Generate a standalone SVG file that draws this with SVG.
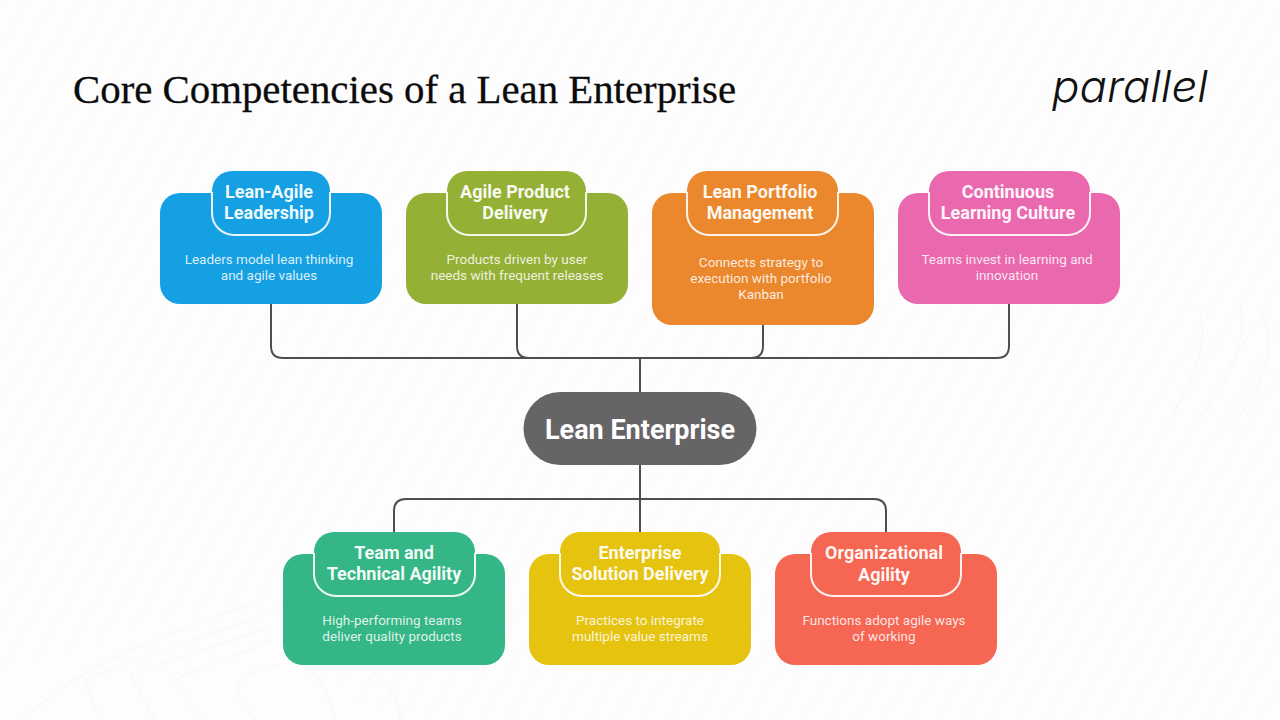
<svg xmlns="http://www.w3.org/2000/svg" width="1280" height="720" viewBox="0 0 1280 720">
<style>
.bg{fill:none;stroke:#f8f6fa;stroke-width:1.2}
.head{stroke:none}
.rim{fill:none;stroke:#fff;stroke-width:2;stroke-opacity:.9}
.h{font:700 18px Roboto,sans-serif;fill:#fff;fill-opacity:.95;text-anchor:middle}
.b{font:400 13.500px Roboto,sans-serif;fill:#fff;fill-opacity:.85;text-anchor:middle}
.c{fill:none;stroke:#4f4d50;stroke-width:2}
</style>
<defs>
<pattern id="lines" patternUnits="userSpaceOnUse" width="23" height="40" patternTransform="rotate(31)">
<rect width="1.200" height="40" fill="#f9f7fb"/>
</pattern>
</defs>
<rect width="1280" height="720" fill="#fefdfe"/>
<g id="background">
<path d="M0 0H1280V720H390L300 660L270 590L0 670Z" fill="url(#lines)"/>
<path class="bg" d="M270 596C200 625 110 650 60 690L20 720M270 612C200 640 130 660 85 680L100 720M270 626C210 650 160 665 130 675L155 720M272 640C230 660 190 670 175 680L200 720M280 665C250 670 230 680 240 700L255 720M310 670C330 690 330 705 335 720M370 670C395 690 400 705 400 720M1200 310C1210 350 1190 380 1175 410M1240 305C1250 350 1220 390 1200 420M1260 310C1285 360 1250 400 1230 430"/>
</g>
<text x="73" y="103" font-family="'Liberation Serif',serif" font-size="40" fill="#0b0b0c" stroke="#0b0b0c" stroke-width=".3" textLength="663" lengthAdjust="spacingAndGlyphs">Core Competencies of a Lean Enterprise</text>
<text x="1052" y="102" font-family="Inter,sans-serif" font-style="italic" font-weight="300" font-size="44" fill="#111" textLength="156" lengthAdjust="spacingAndGlyphs">parallel</text>
<g id="connectors">
<path class="c" d="M271 304V346Q271 358 283 358H997Q1009 358 1009 346V304"/>
<path class="c" d="M517 304V346Q517 358 529 358M763 325V346Q763 358 751 358"/>
<path class="c" d="M640 358V392M640 465V532"/>
<path class="c" d="M394 532V511Q394 499 406 499H874Q886 499 886 511V532"/>
</g>
<g id="node-lean-agile">
<rect x="160" y="193" width="222" height="111" rx="20" fill="#14a0e2"/>
<rect class="head" x="212" y="171" width="118" height="64" rx="20" fill="#14a0e2"/>
<path class="rim" d="M212 192V213A22 22 0 0 0 234 235H308A22 22 0 0 0 330 213V192"/>
<text class="h" x="269" y="198">Lean-Agile</text><text class="h" x="269" y="219">Leadership</text>
<text class="b" x="269" y="264">Leaders model lean thinking</text><text class="b" x="269" y="280">and agile values</text>
</g>
<g id="node-agile-product">
<rect x="406" y="193" width="222" height="111" rx="20" fill="#94b035"/>
<rect class="head" x="447" y="171" width="139" height="64" rx="20" fill="#94b035"/>
<path class="rim" d="M447 192V213A22 22 0 0 0 469 235H564A22 22 0 0 0 586 213V192"/>
<text class="h" x="515" y="198">Agile Product</text><text class="h" x="515" y="219">Delivery</text>
<text class="b" x="517" y="264">Products driven by user</text><text class="b" x="517" y="280">needs with frequent releases</text>
</g>
<g id="node-lean-portfolio">
<rect x="652" y="193" width="222" height="132" rx="20" fill="#eb872c"/>
<rect class="head" x="687" y="171" width="151" height="64" rx="20" fill="#eb872c"/>
<path class="rim" d="M687 192V213A22 22 0 0 0 709 235H816A22 22 0 0 0 838 213V192"/>
<text class="h" x="760" y="198">Lean Portfolio</text><text class="h" x="760" y="219">Management</text>
<text class="b" x="761" y="267">Connects strategy to</text><text class="b" x="761" y="283">execution with portfolio</text><text class="b" x="761" y="299">Kanban</text>
</g>
<g id="node-learning">
<rect x="898" y="193" width="222" height="111" rx="20" fill="#ea69ae"/>
<rect class="head" x="929" y="171" width="161" height="64" rx="20" fill="#ea69ae"/>
<path class="rim" d="M929 192V213A22 22 0 0 0 951 235H1068A22 22 0 0 0 1090 213V192"/>
<text class="h" x="1008" y="198">Continuous</text><text class="h" x="1008" y="219">Learning Culture</text>
<text class="b" x="1007" y="264">Teams invest in learning and</text><text class="b" x="1007" y="280">innovation</text>
</g>
<g id="node-center">
<rect x="523.500" y="392" width="233" height="73" rx="36.500" fill="#676467"/>
<text x="640" y="439" font-family="Roboto,sans-serif" font-weight="700" font-size="27" fill="#fff" text-anchor="middle">Lean Enterprise</text>
</g>
<g id="node-team">
<rect x="283" y="554" width="222" height="111" rx="20" fill="#34b686"/>
<rect class="head" x="314" y="532" width="161" height="64" rx="20" fill="#34b686"/>
<path class="rim" d="M314 553V574A22 22 0 0 0 336 596H453A22 22 0 0 0 475 574V553"/>
<text class="h" x="394" y="559">Team and</text><text class="h" x="394" y="580">Technical Agility</text>
<text class="b" x="392" y="625">High-performing teams</text><text class="b" x="392" y="641">deliver quality products</text>
</g>
<g id="node-solution">
<rect x="529" y="554" width="222" height="111" rx="20" fill="#e6c30f"/>
<rect class="head" x="560" y="532" width="160" height="64" rx="20" fill="#e6c30f"/>
<path class="rim" d="M560 553V574A22 22 0 0 0 582 596H698A22 22 0 0 0 720 574V553"/>
<text class="h" x="640" y="559">Enterprise</text><text class="h" x="640" y="580">Solution Delivery</text>
<text class="b" x="640" y="625">Practices to integrate</text><text class="b" x="640" y="641">multiple value streams</text>
</g>
<g id="node-org">
<rect x="775" y="554" width="222" height="111" rx="20" fill="#f56653"/>
<rect class="head" x="811" y="532" width="150" height="64" rx="20" fill="#f56653"/>
<path class="rim" d="M811 553V574A22 22 0 0 0 833 596H939A22 22 0 0 0 961 574V553"/>
<text class="h" x="884" y="559">Organizational</text><text class="h" x="884" y="581">Agility</text>
<text class="b" x="884" y="625">Functions adopt agile ways</text><text class="b" x="884" y="641">of working</text>
</g>
</svg>
